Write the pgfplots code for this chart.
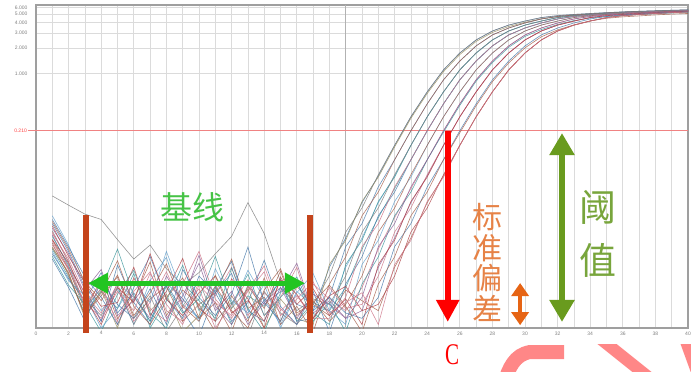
\documentclass[border=0pt]{standalone}
\usepackage{fontspec}
\setmainfont{Liberation Sans}
\newfontfamily\cjk{Noto Sans CJK SC}
\newfontfamily\serifC{Liberation Serif}
\usepackage{graphicx}
\usepackage{pgfplots}
\pgfplotsset{compat=1.18}
\usetikzlibrary{arrows.meta}
\definecolor{cGray}{RGB}{125,125,125}
\definecolor{cOlive}{RGB}{150,140,95}
\definecolor{cBrown}{RGB}{165,95,75}
\definecolor{cSteel}{RGB}{70,120,170}
\definecolor{cTeal}{RGB}{60,150,155}
\definecolor{cPink}{RGB}{205,115,135}
\definecolor{cPurple}{RGB}{140,95,150}
\definecolor{cDRed}{RGB}{175,65,70}
\definecolor{cLBlue}{RGB}{100,160,205}
\definecolor{greenA}{RGB}{34,197,34}
\definecolor{greenT}{RGB}{70,195,70}
\definecolor{barc}{RGB}{196,68,28}
\definecolor{orangeA}{RGB}{230,100,20}
\definecolor{orangeT}{RGB}{230,130,70}
\definecolor{oliveA}{RGB}{105,155,30}
\definecolor{oliveT}{RGB}{120,165,60}
\definecolor{thr}{RGB}{240,130,130}
\definecolor{pinkdeco}{RGB}{255,135,135}
\begin{document}
\begin{tikzpicture}
\begin{axis}[name=ax, scale only axis, width=652pt, height=323pt,
  xmin=0, xmax=40, ymode=log, ymin=0.001, ymax=6.4,
  xtick={0,2,...,40}, minor xtick={1,3,...,39},
  ytick={1,2,3,4,5,6}, yticklabels={1.000,2.000,3.000,4.000,5.000,6.000},
  xmajorgrids, xminorgrids, ymajorgrids,
  grid style={draw=gray!28, line width=0.7pt},
  minor grid style={draw=gray!28, line width=0.7pt},
  major tick length=0pt, minor tick length=0pt,
  tick label style={font=\fontsize{5}{6}\selectfont, text=gray},
  yticklabel style={xshift=-5pt},
  /pgf/number format/assume math mode=true,
  axis line style={draw=gray!75, line width=1.5pt},
  clip mode=individual,
  every axis plot/.append style={line width=0.6pt, opacity=0.8},
]
\draw[gray!60, line width=0.8pt] (axis cs:19,0.001) -- (axis cs:19,6.4);
\draw[thr, line width=0.9pt] (axis cs:-0.5,0.21) -- (axis cs:40,0.21);
\node[anchor=east, inner sep=0pt, font=\fontsize{5}{6}\selectfont, text=red!75] at (axis cs:-0.55,0.21) {0.210};

% extra curves 19-24
\addplot[cTeal] coordinates {(1,0.0085)(2,0.0040)(3,0.0015)(4,0.0027)(5,0.0017)(6,0.0044)(7,0.0010)(8,0.0021)(9,0.0055)(10,0.0016)(11,0.0031)(12,0.0011)(13,0.0024)(14,0.0018)(15,0.0038)(16,0.0012)(17,0.0020)(18,0.0016)(19,0.0030)(20,0.0085)(21,0.020)(22,0.044)(23,0.096)(24,0.211)(25,0.438)(26,0.84)(27,1.40)(28,2.11)(29,2.84)(30,3.43)(31,3.93)(32,4.38)(33,4.69)(34,4.88)(35,5.01)(36,5.15)(37,5.26)(38,5.36)(39,5.43)(40,5.51)};
\addplot[cLBlue] coordinates {(1,0.021)(2,0.0095)(3,0.0033)(4,0.0016)(5,0.0029)(6,0.0011)(7,0.0036)(8,0.0068)(9,0.0019)(10,0.0013)(11,0.0028)(12,0.0017)(13,0.0048)(14,0.0022)(15,0.0011)(16,0.0027)(17,0.0018)(18,0.0016)(19,0.0052)(20,0.0115)(21,0.030)(22,0.062)(23,0.142)(24,0.308)(25,0.606)(26,1.10)(27,1.74)(28,2.48)(29,3.16)(30,3.71)(31,4.14)(32,4.55)(33,4.79)(34,4.95)(35,5.08)(36,5.20)(37,5.31)(38,5.40)(39,5.47)(40,5.55)};
\addplot[cPurple] coordinates {(1,0.0125)(2,0.0052)(3,0.0026)(4,0.0012)(5,0.0034)(6,0.0023)(7,0.0013)(8,0.0041)(9,0.0020)(10,0.0072)(11,0.0018)(12,0.0011)(13,0.0032)(14,0.0019)(15,0.0027)(16,0.0058)(17,0.0015)(18,0.0021)(19,0.0013)(20,0.0016)(21,0.0052)(22,0.0115)(23,0.030)(24,0.062)(25,0.142)(26,0.308)(27,0.606)(28,1.10)(29,1.74)(30,2.48)(31,3.16)(32,3.71)(33,4.14)(34,4.55)(35,4.79)(36,4.95)(37,5.08)(38,5.20)(39,5.31)(40,5.40)};
\addplot[cSteel] coordinates {(1,0.0075)(2,0.0038)(3,0.0021)(4,0.0045)(5,0.0015)(6,0.0026)(7,0.0012)(8,0.0034)(9,0.0022)(10,0.0013)(11,0.0029)(12,0.0061)(13,0.0016)(14,0.0012)(15,0.0030)(16,0.0019)(17,0.0016)(18,0.0052)(19,0.0115)(20,0.030)(21,0.062)(22,0.142)(23,0.308)(24,0.606)(25,1.10)(26,1.74)(27,2.48)(28,3.16)(29,3.71)(30,4.14)(31,4.55)(32,4.79)(33,4.95)(34,5.08)(35,5.20)(36,5.31)(37,5.40)(38,5.47)(39,5.55)(40,5.61)};
\addplot[cPink] coordinates {(1,0.0105)(2,0.0048)(3,0.0019)(4,0.0033)(5,0.0011)(6,0.0027)(7,0.0046)(8,0.0016)(9,0.0012)(10,0.0035)(11,0.0024)(12,0.0052)(13,0.0014)(14,0.0026)(15,0.0017)(16,0.0011)(17,0.0033)(18,0.0022)(19,0.0016)(20,0.0030)(21,0.0085)(22,0.020)(23,0.044)(24,0.096)(25,0.211)(26,0.438)(27,0.84)(28,1.40)(29,2.11)(30,2.84)(31,3.43)(32,3.93)(33,4.38)(34,4.69)(35,4.88)(36,5.01)(37,5.15)(38,5.26)(39,5.36)(40,5.43)};
\addplot[cBrown] coordinates {(1,0.0088)(2,0.0044)(3,0.0014)(4,0.0024)(5,0.0040)(6,0.0013)(7,0.0022)(8,0.0031)(9,0.0012)(10,0.0019)(11,0.0026)(12,0.0065)(13,0.0017)(14,0.0023)(15,0.0012)(16,0.0031)(17,0.0019)(18,0.0014)(19,0.0028)(20,0.0021)(21,0.0016)(22,0.0052)(23,0.0115)(24,0.030)(25,0.062)(26,0.142)(27,0.308)(28,0.606)(29,1.10)(30,1.74)(31,2.48)(32,3.16)(33,3.71)(34,4.14)(35,4.55)(36,4.79)(37,4.95)(38,5.08)(39,5.20)(40,5.31)};

% curve 1
\addplot[cGray] coordinates {(1,0.014)(2,0.006)(3,0.0022)(4,0.0014)(5,0.0031)(6,0.0011)(7,0.0024)(8,0.0009)(9,0.0018)(10,0.0036)(11,0.0012)(12,0.0020)(13,0.0008)(14,0.0027)(15,0.0015)(16,0.0011)(17,0.0019)(18,0.0041)(19,0.0135)(20,0.026)(21,0.064)(22,0.142)(23,0.308)(24,0.606)(25,1.10)(26,1.74)(27,2.48)(28,3.16)(29,3.71)(30,4.14)(31,4.55)(32,4.79)(33,4.95)(34,5.08)(35,5.20)(36,5.31)(37,5.40)(38,5.47)(39,5.55)(40,5.61)};
% curve 2
\addplot[cOlive] coordinates {(1,0.009)(2,0.0045)(3,0.0013)(4,0.0028)(5,0.0010)(6,0.0039)(7,0.0016)(8,0.0025)(9,0.0009)(10,0.0014)(11,0.0042)(12,0.0017)(13,0.0029)(14,0.0010)(15,0.0022)(16,0.0013)(17,0.0011)(18,0.0056)(19,0.0108)(20,0.031)(21,0.060)(22,0.136)(23,0.296)(24,0.58)(25,1.05)(26,1.67)(27,2.38)(28,3.04)(29,3.57)(30,4.00)(31,4.40)(32,4.66)(33,4.83)(34,4.97)(35,5.10)(36,5.21)(37,5.31)(38,5.39)(39,5.47)(40,5.54)};
% curve 3
\addplot[cSteel] coordinates {(1,0.017)(2,0.008)(3,0.0030)(4,0.0012)(5,0.0055)(6,0.0020)(7,0.0011)(8,0.0033)(9,0.0016)(10,0.0008)(11,0.0026)(12,0.0044)(13,0.0013)(14,0.0021)(15,0.0035)(16,0.0012)(17,0.0013)(18,0.0023)(19,0.0091)(20,0.017)(21,0.046)(22,0.096)(23,0.211)(24,0.438)(25,0.84)(26,1.40)(27,2.11)(28,2.84)(29,3.43)(30,3.93)(31,4.38)(32,4.69)(33,4.88)(34,5.01)(35,5.15)(36,5.26)(37,5.36)(38,5.43)(39,5.51)(40,5.58)};
% curve 4
\addplot[cBrown] coordinates {(1,0.011)(2,0.005)(3,0.0016)(4,0.0038)(5,0.0013)(6,0.0022)(7,0.0060)(8,0.0014)(9,0.0028)(10,0.0019)(11,0.0009)(12,0.0024)(13,0.0012)(14,0.0039)(15,0.0011)(16,0.0018)(17,0.0009)(18,0.0033)(19,0.0069)(20,0.021)(21,0.040)(22,0.096)(23,0.211)(24,0.438)(25,0.84)(26,1.40)(27,2.11)(28,2.84)(29,3.43)(30,3.93)(31,4.38)(32,4.69)(33,4.88)(34,5.01)(35,5.15)(36,5.26)(37,5.36)(38,5.43)(39,5.51)(40,5.58)};
% curve 5
\addplot[cTeal] coordinates {(1,0.007)(2,0.0032)(3,0.0019)(4,0.0009)(5,0.0025)(6,0.0048)(7,0.0015)(8,0.0010)(9,0.0034)(10,0.0021)(11,0.0013)(12,0.0051)(13,0.0017)(14,0.0009)(15,0.0026)(16,0.0040)(17,0.0015)(18,0.0011)(19,0.0056)(20,0.0108)(21,0.031)(22,0.060)(23,0.142)(24,0.308)(25,0.606)(26,1.10)(27,1.74)(28,2.48)(29,3.16)(30,3.71)(31,4.14)(32,4.55)(33,4.79)(34,4.95)(35,5.08)(36,5.20)(37,5.31)(38,5.40)(39,5.47)(40,5.55)};
% curve 6
\addplot[cGray] coordinates {(1,0.036)(2,0.028)(3,0.022)(4,0.019)(5,0.011)(6,0.0065)(7,0.0095)(8,0.005)(9,0.0032)(10,0.0045)(11,0.0075)(12,0.012)(13,0.030)(14,0.013)(15,0.0035)(16,0.0016)(17,0.0022)(18,0.0019)(19,0.0041)(20,0.0135)(21,0.026)(22,0.064)(23,0.142)(24,0.308)(25,0.606)(26,1.10)(27,1.74)(28,2.48)(29,3.16)(30,3.71)(31,4.14)(32,4.55)(33,4.79)(34,4.95)(35,5.08)(36,5.20)(37,5.31)(38,5.40)(39,5.47)(40,5.55)};
% curve 8
\addplot[cSteel] coordinates {(1,0.019)(2,0.009)(3,0.0040)(4,0.0023)(5,0.0011)(6,0.0030)(7,0.0070)(8,0.0022)(9,0.0013)(10,0.0041)(11,0.0026)(12,0.0012)(13,0.0020)(14,0.0063)(15,0.0018)(16,0.0011)(17,0.0027)(18,0.0009)(19,0.0033)(20,0.0069)(21,0.021)(22,0.040)(23,0.096)(24,0.211)(25,0.438)(26,0.84)(27,1.40)(28,2.11)(29,2.84)(30,3.43)(31,3.93)(32,4.38)(33,4.69)(34,4.88)(35,5.01)(36,5.15)(37,5.26)(38,5.36)(39,5.43)(40,5.51)};
% curve 7
\addplot[cPink] coordinates {(1,0.013)(2,0.0065)(3,0.0025)(4,0.0015)(5,0.0033)(6,0.0012)(7,0.0020)(8,0.0046)(9,0.0017)(10,0.0029)(11,0.0010)(12,0.0019)(13,0.0037)(14,0.0014)(15,0.0023)(16,0.0052)(17,0.0013)(18,0.0013)(19,0.0023)(20,0.0091)(21,0.017)(22,0.046)(23,0.096)(24,0.211)(25,0.438)(26,0.84)(27,1.40)(28,2.11)(29,2.84)(30,3.43)(31,3.93)(32,4.38)(33,4.69)(34,4.88)(35,5.01)(36,5.15)(37,5.26)(38,5.36)(39,5.43)(40,5.51)};
% curve 10
\addplot[cLBlue] coordinates {(1,0.008)(2,0.0036)(3,0.0024)(4,0.0010)(5,0.0017)(6,0.0035)(7,0.0020)(8,0.0080)(9,0.0025)(10,0.0012)(11,0.0050)(12,0.0021)(13,0.0015)(14,0.0033)(15,0.0010)(16,0.0026)(17,0.0044)(18,0.0016)(19,0.0011)(20,0.0056)(21,0.0108)(22,0.031)(23,0.060)(24,0.142)(25,0.308)(26,0.606)(27,1.10)(28,1.74)(29,2.48)(30,3.16)(31,3.71)(32,4.14)(33,4.55)(34,4.79)(35,4.95)(36,5.08)(37,5.20)(38,5.31)(39,5.40)(40,5.47)};
% curve 9
\addplot[cBrown] coordinates {(1,0.010)(2,0.0042)(3,0.0014)(4,0.0026)(5,0.0062)(6,0.0018)(7,0.0011)(8,0.0023)(9,0.0039)(10,0.0013)(11,0.0020)(12,0.0009)(13,0.0031)(14,0.0017)(15,0.0047)(16,0.0014)(17,0.0021)(18,0.0012)(19,0.0019)(20,0.0041)(21,0.0135)(22,0.026)(23,0.064)(24,0.142)(25,0.308)(26,0.606)(27,1.10)(28,1.74)(29,2.48)(30,3.16)(31,3.71)(32,4.14)(33,4.55)(34,4.79)(35,4.95)(36,5.08)(37,5.20)(38,5.31)(39,5.40)(40,5.47)};
% curve 12
\addplot[cTeal] coordinates {(1,0.012)(2,0.0055)(3,0.0017)(4,0.0029)(5,0.0085)(6,0.0024)(7,0.0012)(8,0.0031)(9,0.0015)(10,0.0022)(11,0.0070)(12,0.0019)(13,0.0043)(14,0.0014)(15,0.0023)(16,0.0036)(17,0.0012)(18,0.0020)(19,0.0009)(20,0.0033)(21,0.0069)(22,0.021)(23,0.040)(24,0.096)(25,0.203)(26,0.42)(27,0.81)(28,1.34)(29,2.03)(30,2.73)(31,3.29)(32,3.77)(33,4.20)(34,4.50)(35,4.68)(36,4.81)(37,4.94)(38,5.05)(39,5.15)(40,5.21)};
% curve 11
\addplot[cPurple] coordinates {(1,0.015)(2,0.0075)(3,0.0028)(4,0.0049)(5,0.0014)(6,0.0021)(7,0.0037)(8,0.0013)(9,0.0024)(10,0.0058)(11,0.0016)(12,0.0027)(13,0.0011)(14,0.0020)(15,0.0030)(16,0.0013)(17,0.0025)(18,0.0019)(19,0.0013)(20,0.0023)(21,0.0091)(22,0.017)(23,0.046)(24,0.096)(25,0.211)(26,0.438)(27,0.84)(28,1.40)(29,2.11)(30,2.84)(31,3.43)(32,3.93)(33,4.38)(34,4.69)(35,4.88)(36,5.01)(37,5.15)(38,5.26)(39,5.36)(40,5.43)};
% curve 13
\addplot[cPink] coordinates {(1,0.0095)(2,0.005)(3,0.0020)(4,0.0013)(5,0.0027)(6,0.0016)(7,0.0044)(8,0.0019)(9,0.0011)(10,0.0032)(11,0.0020)(12,0.0014)(13,0.0028)(14,0.0054)(15,0.0016)(16,0.0024)(17,0.0013)(18,0.0030)(19,0.0017)(20,0.0019)(21,0.0041)(22,0.0135)(23,0.026)(24,0.064)(25,0.142)(26,0.308)(27,0.606)(28,1.10)(29,1.74)(30,2.48)(31,3.16)(32,3.71)(33,4.14)(34,4.55)(35,4.79)(36,4.95)(37,5.08)(38,5.20)(39,5.31)(40,5.40)};
% curve 14
\addplot[cDRed] coordinates {(1,0.016)(2,0.007)(3,0.0034)(4,0.0018)(5,0.0020)(6,0.0052)(7,0.0014)(8,0.0027)(9,0.0066)(10,0.0017)(11,0.0012)(12,0.0038)(13,0.0022)(14,0.0010)(15,0.0040)(16,0.0019)(17,0.0029)(18,0.0014)(19,0.0022)(20,0.0011)(21,0.0056)(22,0.0108)(23,0.031)(24,0.060)(25,0.142)(26,0.308)(27,0.606)(28,1.10)(29,1.74)(30,2.48)(31,3.16)(32,3.71)(33,4.14)(34,4.55)(35,4.79)(36,4.95)(37,5.08)(38,5.20)(39,5.31)(40,5.40)};
% curve 15
\addplot[cSteel] coordinates {(1,0.0065)(2,0.0030)(3,0.0012)(4,0.0036)(5,0.0019)(6,0.0013)(7,0.0029)(8,0.0011)(9,0.0049)(10,0.0023)(11,0.0014)(12,0.0025)(13,0.0090)(14,0.0020)(15,0.0012)(16,0.0034)(17,0.0016)(18,0.0023)(19,0.0015)(20,0.0013)(21,0.0023)(22,0.0091)(23,0.017)(24,0.046)(25,0.096)(26,0.211)(27,0.438)(28,0.84)(29,1.40)(30,2.11)(31,2.84)(32,3.43)(33,3.93)(34,4.38)(35,4.69)(36,4.88)(37,5.01)(38,5.15)(39,5.26)(40,5.36)};
% curve 16
\addplot[cBrown] coordinates {(1,0.018)(2,0.0085)(3,0.0035)(4,0.0021)(5,0.0042)(6,0.0014)(7,0.0026)(8,0.0057)(9,0.0018)(10,0.0012)(11,0.0031)(12,0.0016)(13,0.0010)(14,0.0028)(15,0.0050)(16,0.0015)(17,0.0020)(18,0.0032)(19,0.0018)(20,0.0009)(21,0.0033)(22,0.0069)(23,0.021)(24,0.040)(25,0.096)(26,0.200)(27,0.416)(28,0.80)(29,1.33)(30,2.00)(31,2.70)(32,3.26)(33,3.73)(34,4.16)(35,4.46)(36,4.64)(37,4.76)(38,4.89)(39,5.00)(40,5.09)};
% curve 17
\addplot[cDRed] coordinates {(1,0.011)(2,0.0058)(3,0.0023)(4,0.0011)(5,0.0030)(6,0.0020)(7,0.0075)(8,0.0022)(9,0.0014)(10,0.0026)(11,0.0041)(12,0.0015)(13,0.0021)(14,0.0012)(15,0.0037)(16,0.0025)(17,0.0013)(18,0.0024)(19,0.0031)(20,0.0016)(21,0.0019)(22,0.0041)(23,0.0135)(24,0.026)(25,0.064)(26,0.142)(27,0.308)(28,0.606)(29,1.10)(30,1.74)(31,2.48)(32,3.16)(33,3.71)(34,4.14)(35,4.55)(36,4.79)(37,4.95)(38,5.08)(39,5.20)(40,5.31)};
% curve 18
\addplot[cPink] coordinates {(1,0.0135)(2,0.006)(3,0.0018)(4,0.0029)(5,0.0012)(6,0.0039)(7,0.0017)(8,0.0012)(9,0.0033)(10,0.0080)(11,0.0022)(12,0.0013)(13,0.0027)(14,0.0046)(15,0.0014)(16,0.0022)(17,0.0035)(18,0.0015)(19,0.0020)(20,0.0026)(21,0.0011)(22,0.0056)(23,0.0108)(24,0.031)(25,0.060)(26,0.142)(27,0.308)(28,0.606)(29,1.10)(30,1.74)(31,2.48)(32,3.16)(33,3.71)(34,4.14)(35,4.55)(36,4.79)(37,4.95)(38,5.08)(39,5.20)(40,5.31)};

% annotations
\draw[barc, line width=6pt] (axis cs:3.07,0.00088) -- (axis cs:3.07,0.0215);
\draw[barc, line width=6pt] (axis cs:16.8,0.00088) -- (axis cs:16.8,0.0215);
\draw[greenA, line width=5pt, {Triangle[width=20pt,length=20pt]}-{Triangle[width=20pt,length=20pt]}] (axis cs:3.2,0.00337) -- (axis cs:16.5,0.00337);
\node[text=greenT, font=\cjk\fontsize{32}{32}\selectfont] at (axis cs:9.63,0.0267) {基线};
\draw[red, line width=6pt, -{Triangle[width=22pt,length=22pt]}] (axis cs:25.26,0.21) -- (axis cs:25.26,0.00118);
\node[text=orangeT, font=\cjk\fontsize{30}{30.5}\selectfont, align=center, inner sep=0pt] at (axis cs:27.67,0.0059) {标\\准\\偏\\差};
\draw[orangeA, line width=4pt, {Triangle[width=17pt,length=13pt]}-{Triangle[width=17pt,length=13pt]}] (axis cs:29.7,0.00339) -- (axis cs:29.7,0.00108);
\draw[oliveA, line width=6pt, {Triangle[width=24pt,length=22pt]}-{Triangle[width=24pt,length=22pt]}] (axis cs:32.27,0.198) -- (axis cs:32.27,0.00118);
\node[text=oliveT, font=\cjk\fontsize{37}{53}\selectfont, align=center, inner sep=0pt] at (axis cs:34.5,0.013) {阈\\值};
\end{axis}
\begin{scope}[shift={(ax.south west)}]
\begin{scope}
\clip (-36pt,-16pt) rectangle (655pt,-43pt);
\draw[pinkdeco, line width=14pt] (468pt,-55pt) to[out=72,in=190] (494pt,-24pt) -- (528pt,-24pt);
\draw[pinkdeco, line width=12pt] (561pt,-8pt) -- (616pt,-52pt);
\draw[pinkdeco, line width=12pt] (648pt,-8pt) -- (664pt,-52pt);
\end{scope}
\node[text=red, font=\serifC\fontsize{30}{30}\selectfont, inner sep=0pt] at (416pt,-27pt) {\scalebox{0.7}[1]{C}};
\end{scope}
\pgfresetboundingbox
\useasboundingbox ([xshift=-36pt,yshift=-43pt]ax.south west) rectangle ([xshift=3pt,yshift=5pt]ax.north east);
\end{tikzpicture}
\end{document}
